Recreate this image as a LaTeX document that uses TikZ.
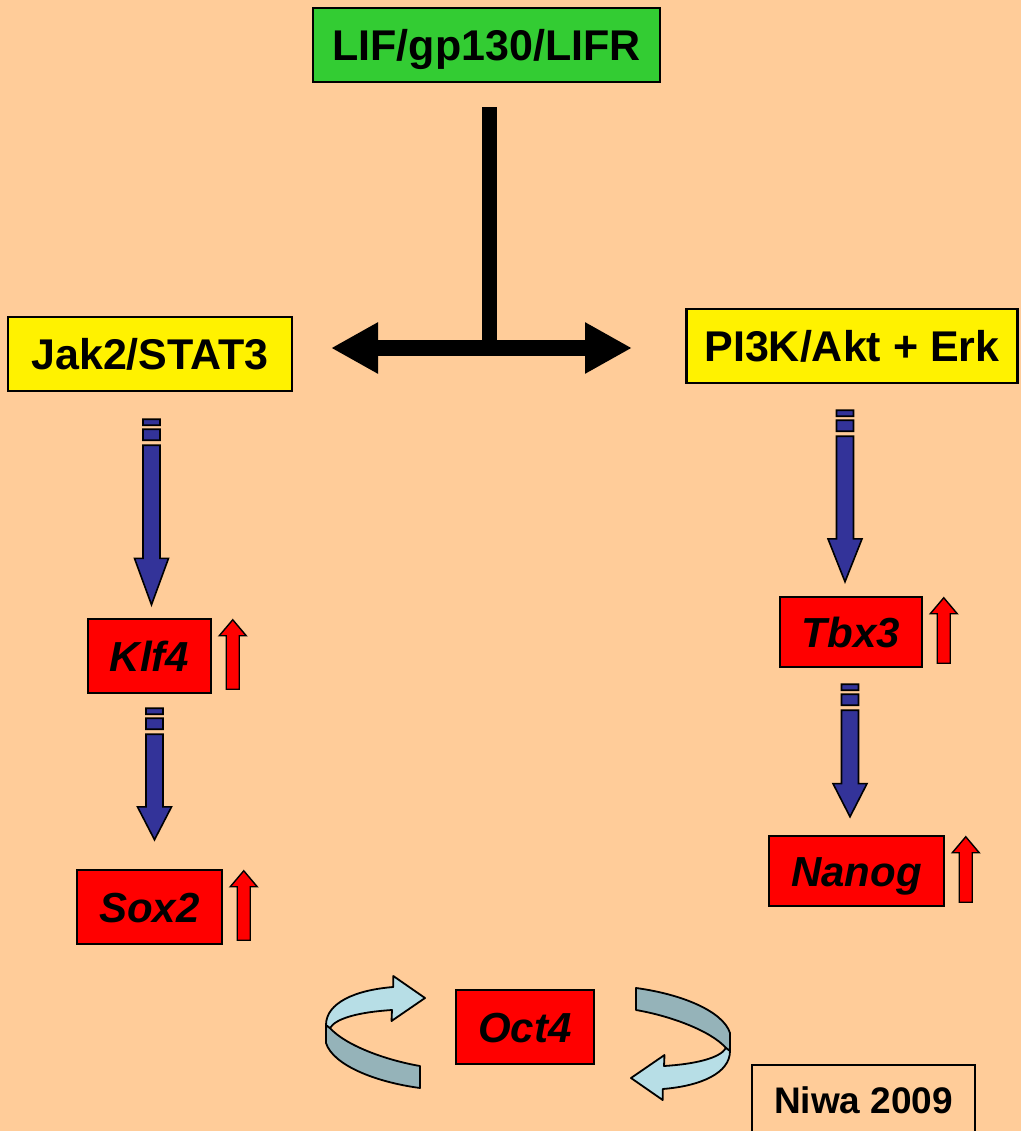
\documentclass[tikz,border=0pt]{standalone}
\usepackage{fontspec}
\setmainfont{Liberation Sans}
\usetikzlibrary{arrows.meta,calc}
\definecolor{bg}{HTML}{FFCC99}
\definecolor{lgreen}{HTML}{33CC33}
\definecolor{navy}{HTML}{333399}
\definecolor{ribbonlight}{HTML}{B7DEE6}
\definecolor{ribbondark}{HTML}{95B3B9}
% blue block arrow between two nodes: #1 source, #2 target, #3 top gap, #4 bottom gap, #5 x shift
\newcommand\flowarrow[5]{%
  \draw[bluearr] let \p1=(#1.south), \p2=(#2.north), \n1={\y1-#3}, \n2={\y2+#4},
      \n3={0.25*(\n1-\n2)}, \n4={\x2+#5} in
    (\n4-8.5pt,\n1) rectangle (\n4+8.5pt,\n1-6pt)
    (\n4-8.5pt,\n1-10pt) rectangle (\n4+8.5pt,\n1-21pt)
    (\n4-8.5pt,\n1-26pt) -- (\n4+8.5pt,\n1-26pt) -- (\n4+8.5pt,\n2+\n3)
    -- (\n4+17pt,\n2+\n3) -- (\n4,\n2) -- (\n4-17pt,\n2+\n3) -- (\n4-8.5pt,\n2+\n3) -- cycle;}
% small red up arrow at the right of a node
\newcommand\upmark[1]{%
  \draw[redup] let \p1=(#1.north east), \p2=(#1.south east) in
    (\x1+14pt,\y2+5pt) -- (\x1+14pt,\y1-18pt) -- (\x1+7pt,\y1-18pt) -- (\x1+20.5pt,\y1-2pt)
    -- (\x1+34pt,\y1-18pt) -- (\x1+27pt,\y1-18pt) -- (\x1+27pt,\y2+5pt) -- cycle;}
% circular ribbon arrow
\newcommand\loopribbon{%
  \draw[ribbon, fill=ribbondark] (330,1028) .. controls (345,1045) and (385,1060) .. (420,1066)
    -- (420,1088) .. controls (375,1082) and (333,1065) .. (326,1043) -- (326,1025) -- cycle;
  \draw[ribbon, fill=ribbonlight] (330,1028) .. controls (336,1018) and (360,1012) .. (392,1010)
    -- (391.5,1021) -- (425,998) -- (393.3,976) -- (393.3,987)
    .. controls (355,990) and (326,1003) .. (326,1025) -- cycle;}
\begin{document}
\begin{tikzpicture}[x=1pt,y=-1pt,
  box/.style={draw=black, line width=2.5pt, rectangle, inner sep=0pt,
    font=\fontsize{43}{43}\selectfont\bfseries, text height=30.8pt, text depth=0pt},
  gene/.style={box, fill=red, font=\fontsize{42}{42}\selectfont\bfseries\itshape, text height=30pt},
  bluearr/.style={draw=black, fill=navy, line width=1.6pt, line join=miter},
  redup/.style={draw=black, fill=red, line width=1.4pt, line join=miter},
  ribbon/.style={draw=black, line width=1.8pt, line join=round}]
\useasboundingbox (0,0) rectangle (1021,1131);
\fill[bg] (0,0) rectangle (1021,1131);

\node[box, fill=lgreen, minimum width=347pt, minimum height=74pt] (lif) at (486.5,45) {LIF/gp130/LIFR};
\node[box, fill=yellow, minimum width=284pt, minimum height=74pt] (jak) at (150,354) {Jak2/STAT3};
\node[box, fill=yellow, minimum width=331pt, minimum height=74pt] (pik) at (852,346) {PI3K/Akt + Erk};
\node[gene, minimum width=123pt, minimum height=74pt] (klf) at (149.5,656) {Klf4};
\node[gene, minimum width=145pt, minimum height=74pt] (sox) at (149.5,907) {Sox2};
\node[gene, minimum width=142pt, minimum height=70pt] (tbx) at (851,632) {Tbx3};
\node[gene, minimum width=175pt, minimum height=70pt] (nan) at (856.5,871) {Nanog};
\node[gene, minimum width=138pt, minimum height=74pt] (oct) at (525,1027) {Oct4};
\node[box, line width=2pt, fill=bg, font=\fontsize{37}{37}\selectfont\bfseries, text height=26.5pt,
  minimum width=223pt, minimum height=70pt] (niwa) at (863.5,1100) {Niwa 2009};

% T-shaped connector
\coordinate (tj) at (489.5,348);
\coordinate (tl) at (331,348);
\coordinate (tr) at (632,348);
\draw[line width=15pt] ([xshift=3pt,yshift=-24pt]lif.south) -- (tj);
\draw[line width=16pt, {Triangle[length=47pt,width=48pt]}-{Triangle[length=47pt,width=48pt]}] (tl) -- (tr);

% blue flow arrows
\flowarrow{jak}{klf}{27pt}{13pt}{2pt}
\flowarrow{klf}{sox}{14pt}{29pt}{5pt}
\flowarrow{pik}{tbx}{26pt}{14pt}{-6pt}
\flowarrow{tbx}{nan}{16pt}{18pt}{-6.5pt}

% red up marks
\upmark{klf}
\upmark{sox}
\upmark{tbx}
\upmark{nan}

% circular arrows around Oct4
\loopribbon
\begin{scope}[rotate around={180:(528,1038)}]
\loopribbon
\end{scope}
\end{tikzpicture}
\end{document}
